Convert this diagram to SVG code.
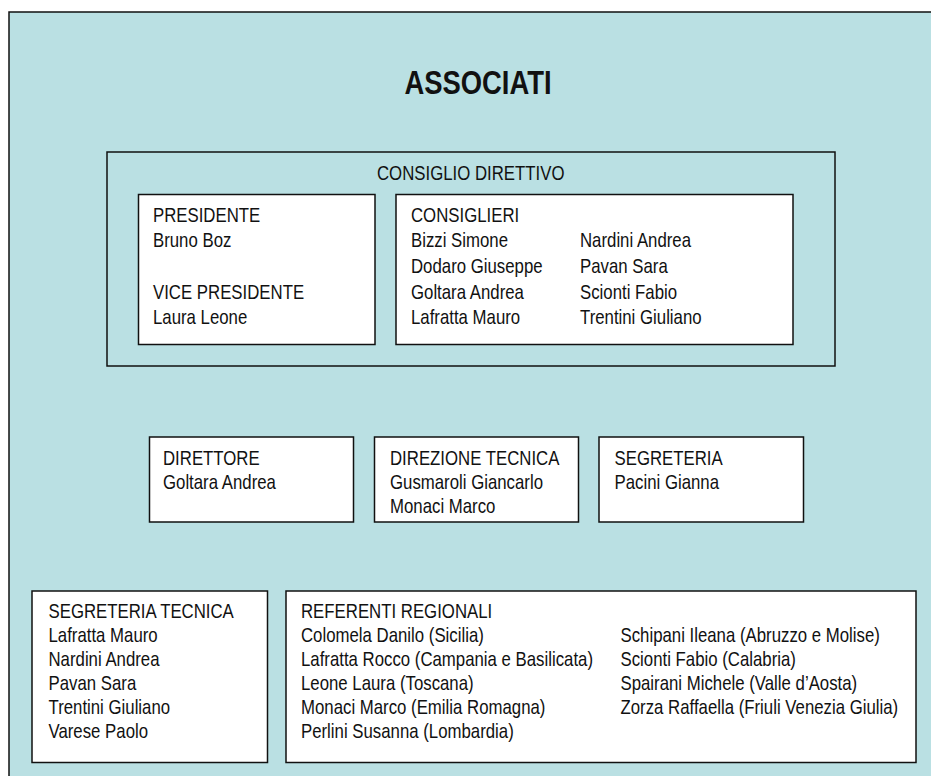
<svg xmlns="http://www.w3.org/2000/svg" width="931" height="776" viewBox="0 0 931 776">
<style>
.bg{fill:#bae0e3;stroke:#111;stroke-width:1.5}
.frame{fill:none;stroke:#111;stroke-width:1.5}
.box{fill:#fff;stroke:#111;stroke-width:1.5}
text{font-family:"Liberation Sans",Arial,sans-serif;font-size:20px;fill:#111}
.title{font-size:33px;font-weight:bold}
</style>
<rect class="bg" x="9" y="12" width="940" height="790"/>
<g id="title"><text class="title" transform="translate(478,94) scale(0.83,1)" text-anchor="middle">ASSOCIATI</text></g>
<g id="consiglio-direttivo">
<rect class="frame" x="107" y="152" width="728" height="214"/>
<text transform="translate(377,179.5) scale(0.84,1)">CONSIGLIO DIRETTIVO</text>
</g>
<g id="presidente">
<rect class="box" x="138.5" y="194.5" width="236.5" height="150"/>
<text transform="translate(153,221.5) scale(0.84,1)"><tspan x="0">PRESIDENTE</tspan><tspan x="0" dy="25.7">Bruno Boz</tspan><tspan x="0" dy="51.4">VICE PRESIDENTE</tspan><tspan x="0" dy="25.7">Laura Leone</tspan></text>
</g>
<g id="consiglieri">
<rect class="box" x="396" y="194.5" width="397" height="150"/>
<text transform="translate(411,221.5) scale(0.84,1)"><tspan x="0">CONSIGLIERI</tspan><tspan x="0" dy="25.7">Bizzi Simone</tspan><tspan x="0" dy="25.7">Dodaro Giuseppe</tspan><tspan x="0" dy="25.7">Goltara Andrea</tspan><tspan x="0" dy="25.7">Lafratta Mauro</tspan></text>
<text transform="translate(580,247.2) scale(0.84,1)"><tspan x="0">Nardini Andrea</tspan><tspan x="0" dy="25.7">Pavan Sara</tspan><tspan x="0" dy="25.7">Scionti Fabio</tspan><tspan x="0" dy="25.7">Trentini Giuliano</tspan></text>
</g>
<g id="direttore">
<rect class="box" x="149.5" y="437" width="204" height="85"/>
<text transform="translate(163,465) scale(0.84,1)"><tspan x="0">DIRETTORE</tspan><tspan x="0" dy="24">Goltara Andrea</tspan></text>
</g>
<g id="direzione-tecnica">
<rect class="box" x="374.5" y="437" width="204" height="85"/>
<text transform="translate(390,465) scale(0.84,1)"><tspan x="0">DIREZIONE TECNICA</tspan><tspan x="0" dy="24">Gusmaroli Giancarlo</tspan><tspan x="0" dy="24">Monaci Marco</tspan></text>
</g>
<g id="segreteria">
<rect class="box" x="599" y="437" width="204.5" height="85"/>
<text transform="translate(614.5,465) scale(0.84,1)"><tspan x="0">SEGRETERIA</tspan><tspan x="0" dy="24">Pacini Gianna</tspan></text>
</g>
<g id="segreteria-tecnica">
<rect class="box" x="32" y="591" width="235.5" height="171.5"/>
<text transform="translate(48.5,618) scale(0.84,1)"><tspan x="0">SEGRETERIA TECNICA</tspan><tspan x="0" dy="24">Lafratta Mauro</tspan><tspan x="0" dy="24">Nardini Andrea</tspan><tspan x="0" dy="24">Pavan Sara</tspan><tspan x="0" dy="24">Trentini Giuliano</tspan><tspan x="0" dy="24">Varese Paolo</tspan></text>
</g>
<g id="referenti-regionali">
<rect class="box" x="286" y="591" width="630" height="171.5"/>
<text transform="translate(301,618) scale(0.84,1)"><tspan x="0">REFERENTI REGIONALI</tspan><tspan x="0" dy="24">Colomela Danilo (Sicilia)</tspan><tspan x="0" dy="24">Lafratta Rocco (Campania e Basilicata)</tspan><tspan x="0" dy="24">Leone Laura (Toscana)</tspan><tspan x="0" dy="24">Monaci Marco (Emilia Romagna)</tspan><tspan x="0" dy="24">Perlini Susanna (Lombardia)</tspan></text>
<text transform="translate(620.5,642) scale(0.84,1)"><tspan x="0">Schipani Ileana (Abruzzo e Molise)</tspan><tspan x="0" dy="24">Scionti Fabio (Calabria)</tspan><tspan x="0" dy="24">Spairani Michele (Valle d’Aosta)</tspan><tspan x="0" dy="24">Zorza Raffaella (Friuli Venezia Giulia)</tspan></text>
</g>
<g id="connectors"></g>
</svg>
